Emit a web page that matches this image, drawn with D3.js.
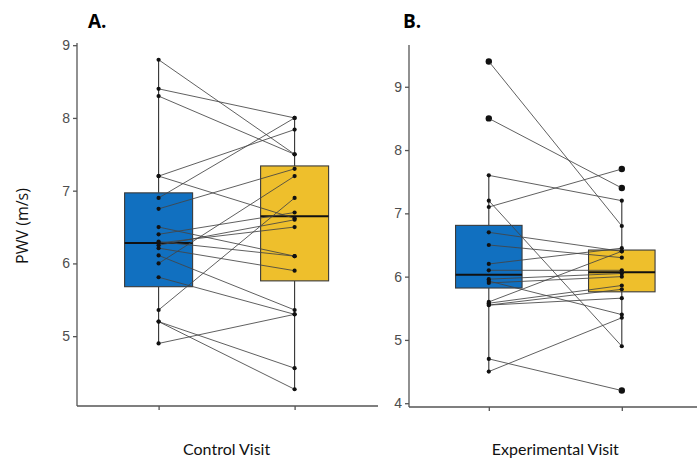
<!DOCTYPE html>
<html>
<head>
<meta charset="utf-8">
<script src="https://cdn.jsdelivr.net/npm/d3@7"></script>
<style>
  html, body { margin: 0; padding: 0; background: #fff; }
  svg { display: block; }
</style>
</head>
<body>
<svg id="chart" width="697" height="463"></svg>
<script>
// ---- data (PWV, m/s), paired per participant ----
const groups = ["Pre", "Post"];

const controlPre  = [8.8, 8.4, 8.3, 7.2, 7.2, 6.9, 6.75, 6.5, 6.4, 6.3, 6.28, 6.21, 6.11, 6.0, 5.81, 5.36, 5.2, 5.2, 4.9, 6.25];
const controlPost = [7.5, 8.0, 7.5, 7.84, 6.62, 8.0, 7.3, 6.1, 6.7, 6.1, 6.5, 5.9, 5.36, 7.2, 5.3, 6.9, 4.56, 4.27, 5.3, 6.6];

const experimentalPre  = [9.4, 8.5, 7.6, 7.2, 7.1, 6.7, 6.5, 6.2, 6.1, 5.96, 5.93, 5.9, 5.6, 5.58, 5.55, 5.55, 4.7, 4.5];
const experimentalPost = [6.8, 7.4, 7.2, 4.9, 7.7, 6.4, 6.3, 6.45, 6.1, 6.05, 5.4, 6.0, 6.4, 5.86, 5.8, 5.66, 4.2, 5.35];

// box summaries: [lower whisker, Q1, median, Q3, upper whisker]
const controlBoxes      = [[4.9, 5.68, 6.28, 6.97, 8.8], [4.27, 5.76, 6.65, 7.34, 8.0]];
const experimentalBoxes = [[4.5, 5.82, 6.03, 6.81, 7.6], [4.9, 5.76, 6.07, 6.42, 7.2]];

// points beyond the whiskers
const controlOutliers      = [[], []];
const experimentalOutliers = [[9.4, 8.5], [7.7, 7.4, 4.2]];

const controlTicks      = [5, 6, 7, 8, 9];
const experimentalTicks = [4, 5, 6, 7, 8, 9];

const colors = ["#1170c0", "#eebf2c"];

// ---- drawing ----
const svg = d3.select("#chart");

function panel(opts) {
  const g = svg.append("g");
  const x = d3.scalePoint().domain(groups).range([opts.x0 + opts.unit * 0.6, opts.x0 + opts.unit * 1.6]);
  const y = d3.scaleLinear().domain(opts.yDomain).range([opts.yBottom, opts.yTop]);
  const boxW = opts.unit * 0.5;

  // y axis
  const yAxis = d3.axisLeft(y).tickValues(opts.ticks).tickSize(4).tickPadding(3).tickFormat(d3.format("d"));
  const ya = g.append("g").attr("transform", `translate(${opts.x0},0)`).call(yAxis);
  ya.select(".domain").attr("d", `M0,${opts.yTop}V${opts.yBottom}`);
  ya.selectAll("line, path").attr("stroke", "#555").attr("stroke-width", 1.3);
  ya.selectAll("text").attr("fill", "#4d4d4d").attr("font-size", 14)
    .attr("font-family", "Liberation Sans, Arial, sans-serif");

  // x axis
  const xAxis = d3.axisBottom(x).tickSize(4).tickFormat("");
  const xa = g.append("g").attr("transform", `translate(0,${opts.yBottom})`).call(xAxis);
  xa.select(".domain").attr("d", `M${opts.x0},0H${opts.x1}`);
  xa.selectAll("line, path").attr("stroke", "#555").attr("stroke-width", 1.3);

  // boxes
  opts.boxes.forEach((b, i) => {
    const cx = x(groups[i]);
    const [lo, q1, med, q3, hi] = b;
    g.append("line").attr("x1", cx).attr("x2", cx).attr("y1", y(q3)).attr("y2", y(hi))
      .attr("stroke", "#333").attr("stroke-width", 1.1);
    g.append("line").attr("x1", cx).attr("x2", cx).attr("y1", y(q1)).attr("y2", y(lo))
      .attr("stroke", "#333").attr("stroke-width", 1.1);
    g.append("rect").attr("x", cx - boxW / 2).attr("width", boxW)
      .attr("y", y(q3)).attr("height", y(q1) - y(q3))
      .attr("fill", colors[i]).attr("stroke", "#3a3a3a").attr("stroke-width", 1.1);
    g.append("line").attr("x1", cx - boxW / 2).attr("x2", cx + boxW / 2)
      .attr("y1", y(med)).attr("y2", y(med)).attr("stroke", "#111").attr("stroke-width", 2);
  });

  // outliers
  opts.outliers.forEach((vals, i) => {
    g.selectAll(null).data(vals).enter().append("circle")
      .attr("cx", x(groups[i])).attr("cy", d => y(d)).attr("r", 3.2).attr("fill", "#111");
  });

  // paired lines
  const pairs = opts.pre.map((v, i) => [v, opts.post[i]]);
  g.selectAll(null).data(pairs).enter().append("line")
    .attr("x1", x(groups[0])).attr("x2", x(groups[1]))
    .attr("y1", d => y(d[0])).attr("y2", d => y(d[1]))
    .attr("stroke", "#444").attr("stroke-opacity", 0.85).attr("stroke-width", 1);

  // points
  [opts.pre, opts.post].forEach((vals, i) => {
    g.selectAll(null).data(vals).enter().append("circle")
      .attr("cx", x(groups[i])).attr("cy", d => y(d)).attr("r", 2.1).attr("fill", "#111");
  });

  // panel letter
  g.append("text").attr("x", opts.letterX).attr("y", 28).text(opts.letter)
    .attr("font-family", "Open Sans, sans-serif").attr("font-weight", 700).attr("font-size", 19).attr("fill", "#000");

  // category caption
  g.append("text").attr("x", (x(groups[0]) + x(groups[1])) / 2).attr("y", 455)
    .attr("text-anchor", "middle").text(opts.caption)
    .attr("font-family", "Lato, sans-serif").attr("font-size", 16).attr("fill", "#111");
}

panel({
  x0: 77, x1: 378, unit: 136,
  yDomain: [4.04, 9.03], yTop: 43, yBottom: 406,
  ticks: controlTicks, boxes: controlBoxes, outliers: controlOutliers,
  pre: controlPre, post: controlPost,
  letter: "A.", letterX: 88, caption: "Control Visit"
});

panel({
  x0: 409, x1: 697, unit: 133,
  yDomain: [3.94, 9.66], yTop: 45, yBottom: 407,
  ticks: experimentalTicks, boxes: experimentalBoxes, outliers: experimentalOutliers,
  pre: experimentalPre, post: experimentalPost,
  letter: "B.", letterX: 403, caption: "Experimental Visit"
});

// shared y label
svg.append("text")
  .attr("transform", "translate(28,226) rotate(-90)")
  .attr("text-anchor", "middle").text("PWV (m/s)")
  .attr("font-family", "Open Sans, sans-serif").attr("font-size", 16).attr("fill", "#111");
</script>
</body>
</html>
